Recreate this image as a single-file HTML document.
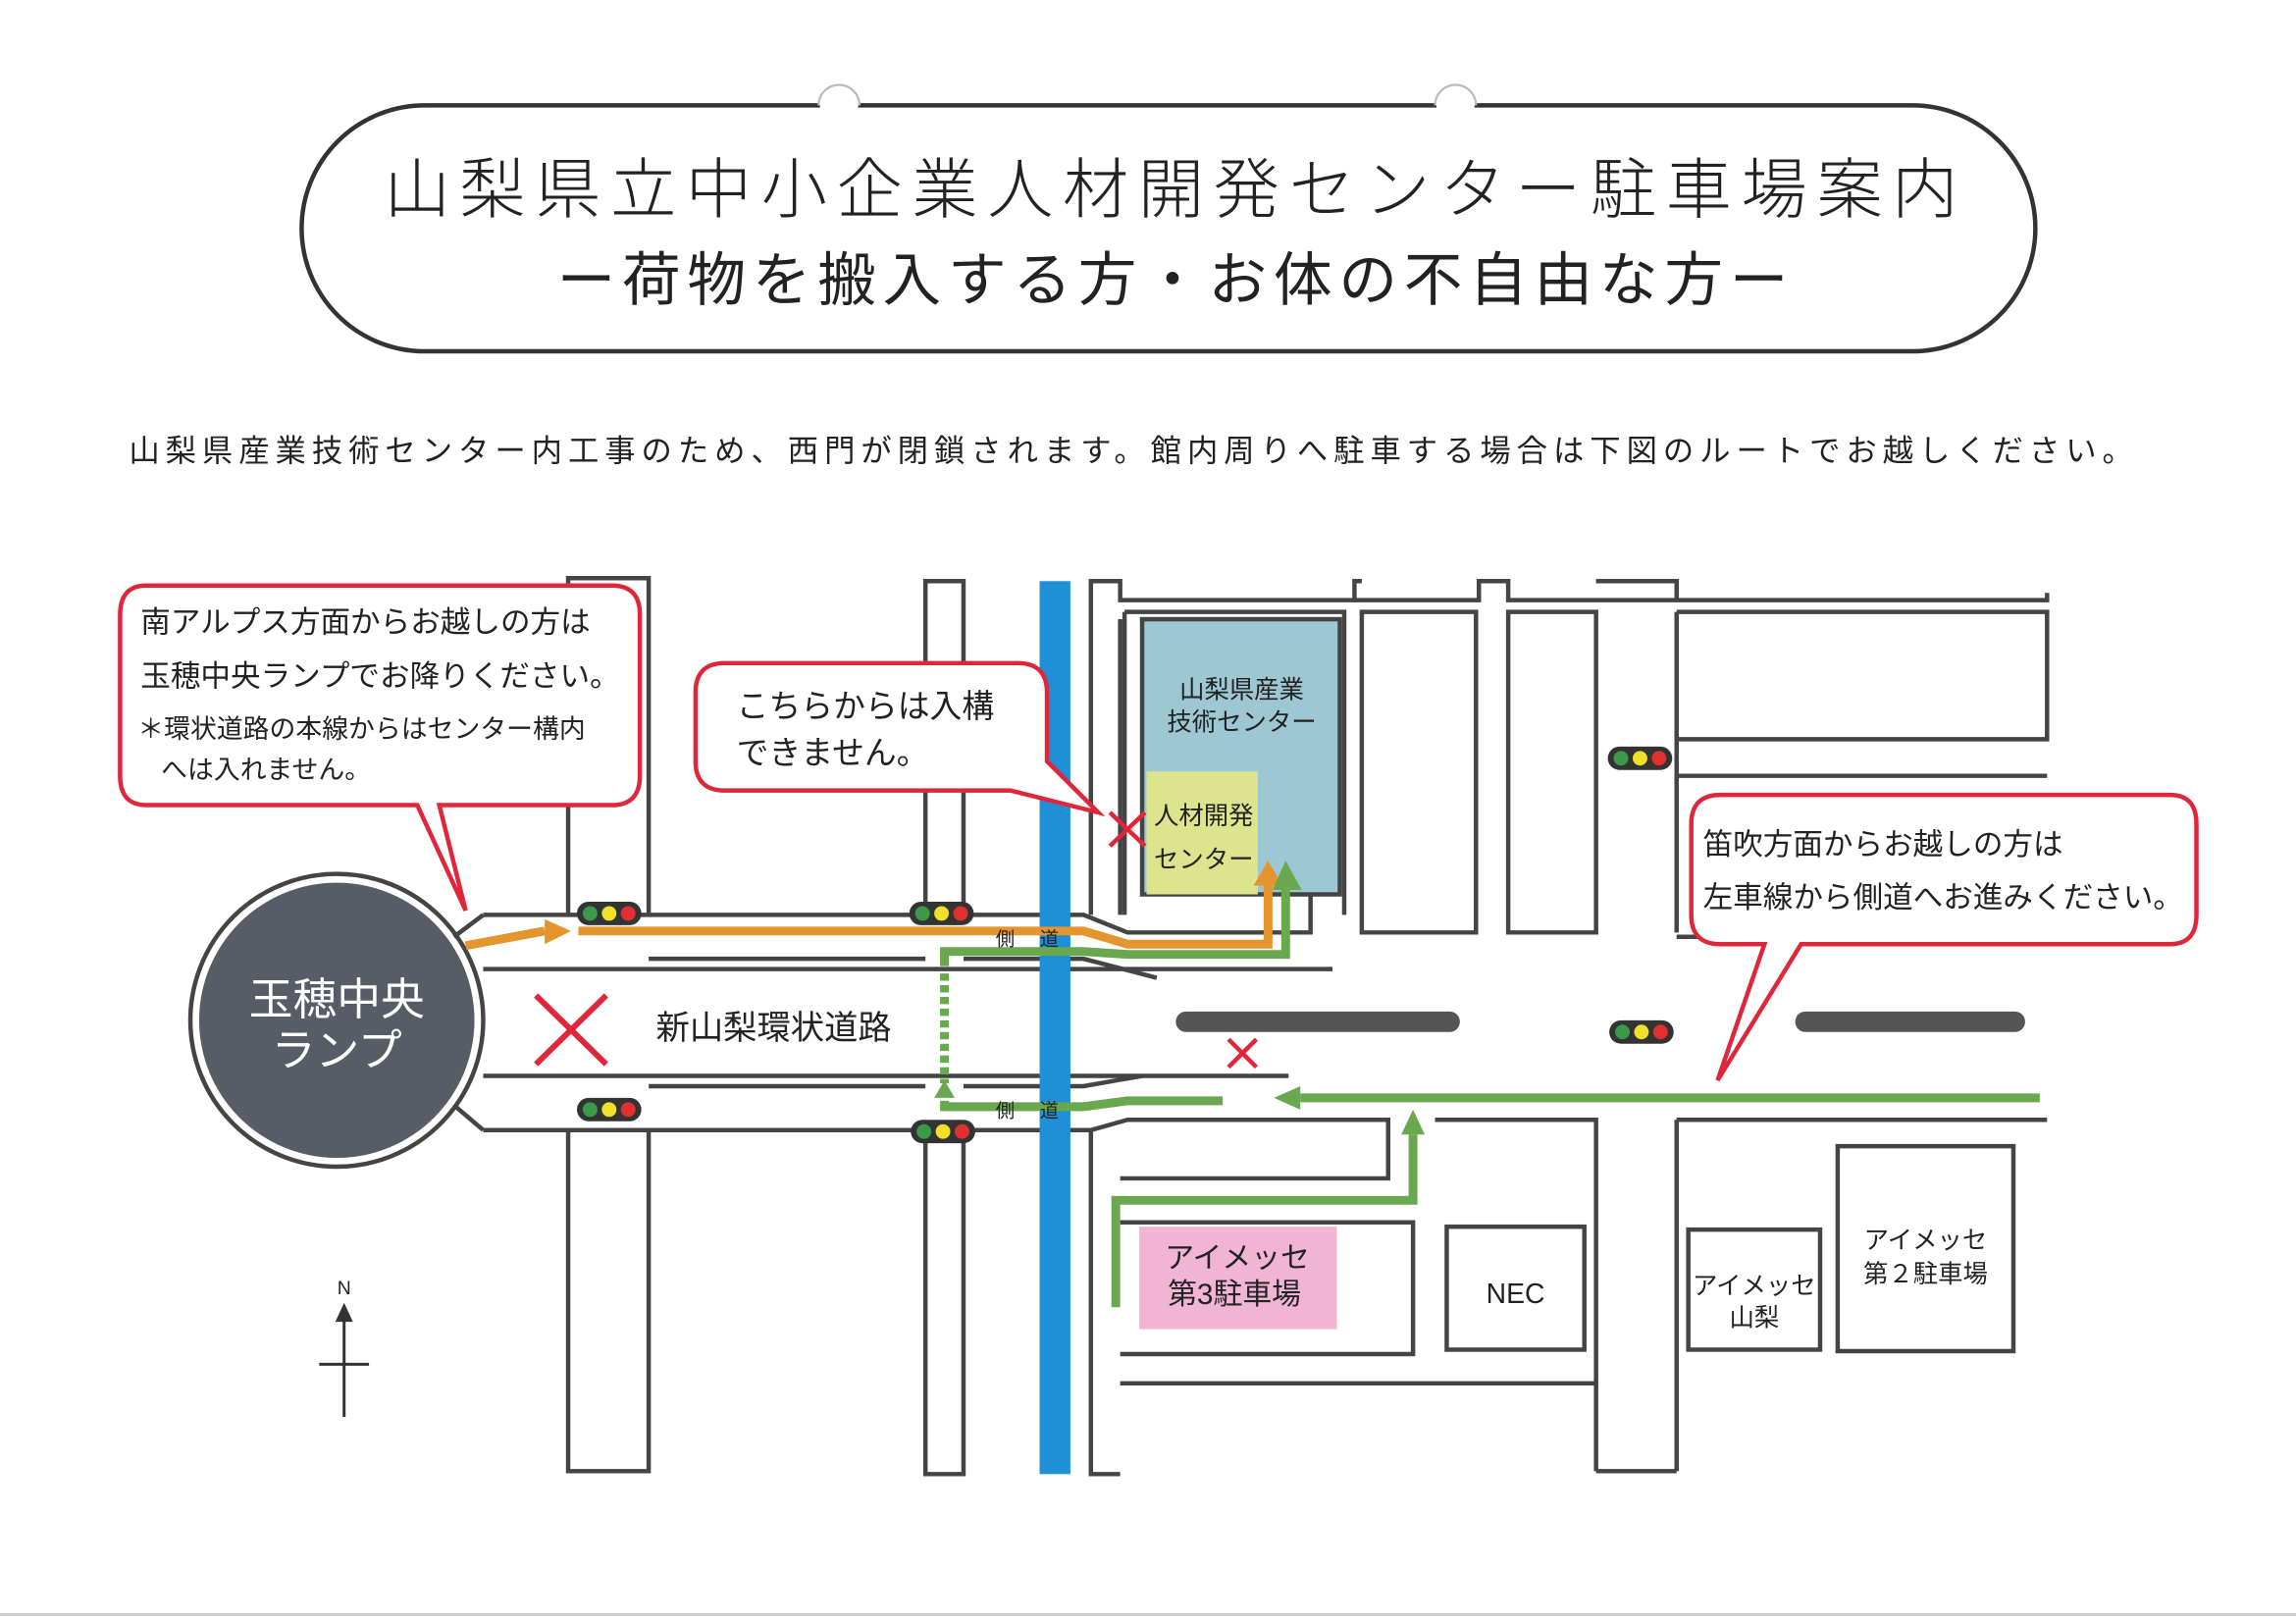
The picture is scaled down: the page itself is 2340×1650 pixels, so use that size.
<!DOCTYPE html>
<html><head><meta charset="utf-8"><style>
html,body{margin:0;padding:0;background:#fff;}
svg{display:block;}
text{font-family:"Liberation Sans","Noto Sans CJK JP",sans-serif;fill:#222;}
</style></head><body>
<svg width="2340" height="1650" viewBox="0 0 1568 1106" preserveAspectRatio="none" xmlns="http://www.w3.org/2000/svg">
<rect width="1568" height="1106" fill="#fff"/>
<!-- title box -->
<rect x="206" y="72" width="1184" height="168" rx="84" fill="#fff" stroke="#333" stroke-width="3"/>
<path d="M559 72 A14 14 0 0 1 587 72" fill="#fff" stroke="#bbb" stroke-width="1.5"/>
<path d="M980 72 A14 14 0 0 1 1008 72" fill="#fff" stroke="#bbb" stroke-width="1.5"/>
<line x1="560" y1="72" x2="586" y2="72" stroke="#fff" stroke-width="4"/>
<line x1="981" y1="72" x2="1007" y2="72" stroke="#fff" stroke-width="4"/>
<text x="803" y="145" font-size="45" text-anchor="middle" letter-spacing="6.5" font-weight="300">山梨県立中小企業人材開発センター駐車場案内</text>
<text x="803" y="205" font-size="40" text-anchor="middle" letter-spacing="4.5">ー荷物を搬入する方・お体の不自由な方ー</text>
<text x="88" y="315" font-size="21" letter-spacing="4">山梨県産業技術センター内工事のため、西門が閉鎖されます。館内周りへ駐車する場合は下図のルートでお越しください。</text>

<g fill="none" stroke="#444" stroke-width="3">
<path d="M388 625 V395 H443 V625"/>
<path d="M388 772 V1005 H443 V772"/>
<path d="M632 625 V397 H658 V625"/>
<path d="M632 772 V1007 H658 V772"/>
<path d="M745 625 V397 H765 V410 H925 V397 H930"/>
<path d="M765 423 V600 L765 625"/>
<path d="M745 772 V1007 H765"/>
<path d="M768 418 H918 V625"/>
<path d="M768 418 V625"/>
<path d="M925 410 H1010 V397 H1030 V410 H1398 V405"/>
<path d="M930 418 H1008 V637 H930 Z"/>
<path d="M1030 418 H1090 V637 H1030 Z"/>
<path d="M1090 397 H1145 V410"/>
<path d="M1145 418 H1398 V505 H1145"/>
<path d="M1145 530 H1398"/>
<path d="M1145 640 H1398"/>
<path d="M1145 418 V637"/>
<path d="M330 625 H640"/>
<path d="M658 625 H740 L770 637 H895 V610"/>
<path d="M330 662 H910"/>
<path d="M443 655 H632 M658 655 H740 L790 668"/>
<path d="M330 735 H880"/>
<path d="M443 742 H632 M658 742 H740 L780 735"/>
<path d="M330 772 H632 M658 772 H745 L770 765 H948 V805 H765"/>
<path d="M980 765 H1090 V1005 M1145 765 H1398 M1145 765 V1005"/>
<path d="M765 835 H965 V925 H765"/>
<path d="M765 945 H1090"/>
<path d="M1145 1005 H1090"/>
<rect x="988" y="838" width="94" height="84"/>
<rect x="1153" y="840" width="90" height="82"/>
<rect x="1255" y="783" width="120" height="140"/>
</g>
<rect x="710" y="397" width="21" height="610" fill="#1f8fd6"/>
<rect x="780" y="423" width="135" height="188" fill="#9cc7d3" stroke="#444" stroke-width="3"/>
<rect x="783" y="527" width="76" height="84" fill="#dde48e"/>
<text x="848" y="477" font-size="17" text-anchor="middle">山梨県産業</text>
<text x="848" y="499" font-size="17" text-anchor="middle">技術センター</text>
<text x="822" y="563" font-size="17" text-anchor="middle">人材開発</text>
<text x="822" y="593" font-size="17" text-anchor="middle">センター</text>
<rect x="778" y="838" width="135" height="70" fill="#f1b5d3"/>
<text x="845" y="866" font-size="20" text-anchor="middle">アイメッセ</text>
<text x="843" y="891" font-size="20" text-anchor="middle">第3駐車場</text>
<text x="1035" y="890" font-size="19" text-anchor="middle">NEC</text>
<text x="1198" y="884" font-size="17" text-anchor="middle">アイメッセ</text>
<text x="1198" y="906" font-size="17" text-anchor="middle">山梨</text>
<text x="1315" y="853" font-size="17" text-anchor="middle">アイメッセ</text>
<text x="1315" y="876" font-size="17" text-anchor="middle">第２駐車場</text>
<line x1="810" y1="698" x2="990" y2="698" stroke="#555" stroke-width="14" stroke-linecap="round"/>
<line x1="1233" y1="698" x2="1376" y2="698" stroke="#555" stroke-width="14" stroke-linecap="round"/>
<circle cx="230" cy="697" r="100" fill="#fff" stroke="#444" stroke-width="3"/>
<circle cx="230" cy="697" r="94" fill="#575c66"/>
<text x="230" y="693" font-size="30" text-anchor="middle" style="fill:#fff">玉穂中央</text>
<text x="230" y="728" font-size="30" text-anchor="middle" style="fill:#fff">ランプ</text>
<path d="M310 640 L330 625 M310 755 L330 772" stroke="#444" stroke-width="3"/>
<g fill="none" stroke-width="6">
<path d="M318 646 L372 636" stroke="#e5952e"/>
<path d="M395 636 H740 L770 645 H866 V605" stroke="#e5952e"/>
<path d="M645 660 V650 H740 L770 652 H878 V605" stroke="#6aa84f"/>
<path d="M645 665 V740" stroke="#6aa84f" stroke-dasharray="5,3"/>
<path d="M645 752 V756 H740 L770 752 H835" stroke="#6aa84f"/>
<path d="M888 750 H1393" stroke="#6aa84f"/>
<path d="M762 893 V820 H965 V775" stroke="#6aa84f"/>
</g>
<polygon points="372,628 390,636 372,645" fill="#e5952e"/>
<polygon points="856,605 866,588 876,605" fill="#e5952e"/>
<polygon points="869,608 878,588 889,608" fill="#6aa84f"/>
<polygon points="638,750 645,738 652,750" fill="#6aa84f"/>
<polygon points="888,742 870,750 888,758" fill="#6aa84f"/>
<polygon points="957,775 965,758 973,775" fill="#6aa84f"/>
<text x="680" y="646" font-size="13">側</text><text x="710" y="646" font-size="13">道</text>
<text x="680" y="763" font-size="13">側</text><text x="710" y="763" font-size="13">道</text>
<g stroke="#e0263a" stroke-width="4"><path d="M366 680 L414 727 M414 680 L366 727"/></g>
<g stroke="#e0263a" stroke-width="3"><path d="M758 555 L782 578 M782 555 L758 578 M839 710 L858 729 M858 710 L839 729"/></g>
<text x="448" y="710" font-size="23">新山梨環状道路</text>
<g id="tl">
<rect x="394" y="616" width="44" height="16" rx="8" fill="#333"/>
<circle cx="403" cy="624" r="5" fill="#3b9a4a"/><circle cx="416" cy="624" r="5" fill="#f0e02a"/><circle cx="429" cy="624" r="5" fill="#e03030"/>
</g>
<use href="#tl" x="227" y="0"/>
<use href="#tl" x="0" y="134"/>
<use href="#tl" x="228" y="149"/>
<use href="#tl" x="704" y="-106"/>
<use href="#tl" x="705" y="81"/>
<g fill="#fff" stroke="#e0263a" stroke-width="3">
<path d="M100 400 H418 Q437 400 437 420 V530 Q437 550 418 550 H300 L318 622 L285 550 H100 Q82 550 82 530 V420 Q82 400 100 400 Z"/>
<path d="M495 453 H695 Q715 453 715 473 V520 L750 555 L690 540 H495 Q475 540 475 520 V473 Q475 453 495 453 Z"/>
<path d="M1175 543 H1482 Q1500 543 1500 563 V625 Q1500 645 1482 645 H1230 L1173 738 L1205 645 H1175 Q1155 645 1155 625 V563 Q1155 543 1175 543 Z"/>
</g>
<text x="96" y="432" font-size="20.5">南アルプス方面からお越しの方は</text>
<text x="96" y="469" font-size="20.5">玉穂中央ランプでお降りください。</text>
<text x="94" y="504" font-size="18">＊環状道路の本線からはセンター構内</text>
<text x="110" y="532" font-size="18">へは入れません。</text>
<text x="503" y="490" font-size="22">こちらからは入構</text>
<text x="503" y="522" font-size="22">できません。</text>
<text x="1163" y="584" font-size="20.5">笛吹方面からお越しの方は</text>
<text x="1163" y="620" font-size="20.5">左車線から側道へお進みください。</text>
<text x="235" y="884" font-size="13" text-anchor="middle">N</text>
<line x1="235" y1="897" x2="235" y2="968" stroke="#333" stroke-width="2"/>
<line x1="218" y1="932" x2="252" y2="932" stroke="#333" stroke-width="2"/>
<polygon points="229,903 235,890 241,903" fill="#333"/>
<line x1="0" y1="1103" x2="1568" y2="1103" stroke="#ccc" stroke-width="2"/>
</svg>
</body></html>
